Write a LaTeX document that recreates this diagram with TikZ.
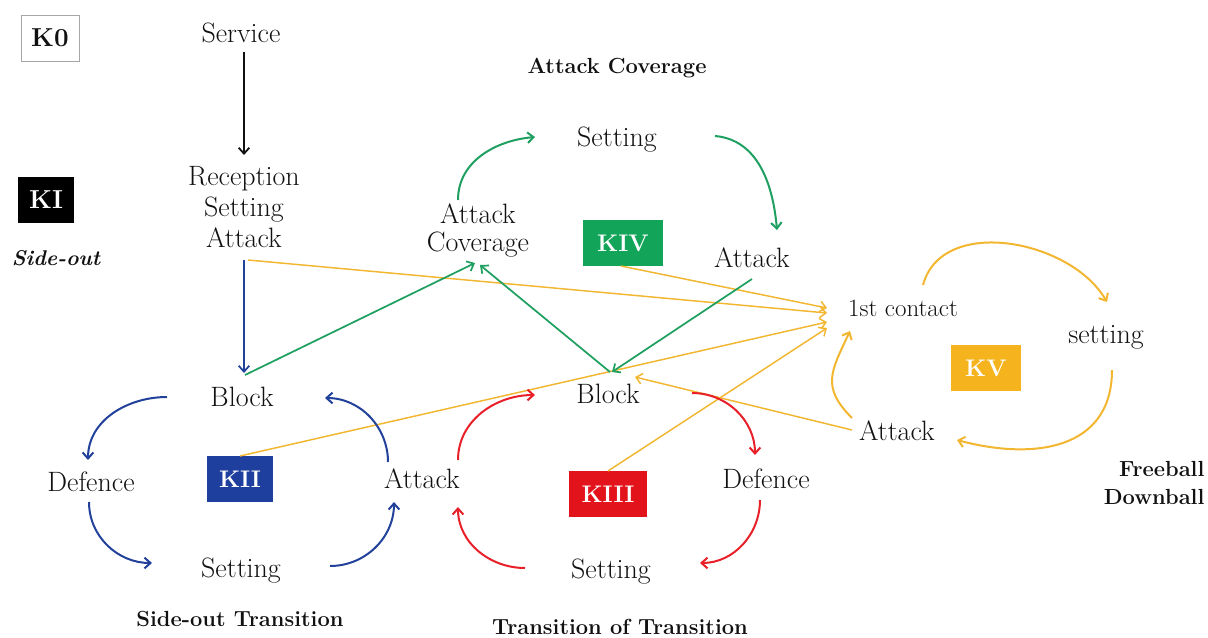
\documentclass[tikz,border=0pt]{standalone}
\usetikzlibrary{arrows.meta,calc}
\definecolor{kblue}{HTML}{1F3F9F}
\definecolor{lblue}{HTML}{22419A}
\definecolor{kred}{HTML}{E3131B}
\definecolor{lred}{HTML}{E8202A}
\definecolor{kgreen}{HTML}{12A55A}
\definecolor{lgreen}{HTML}{1FA060}
\definecolor{kgold}{HTML}{F5B41E}
\definecolor{lgold}{HTML}{F2B631}
\definecolor{ink}{HTML}{111111}
\begin{document}
\begin{tikzpicture}[x=0.75pt,y=-0.75pt,
  txt/.style={font=\fontsize{21}{23}\selectfont, text=ink, inner sep=1pt, align=center},
  ttl/.style={font=\fontsize{16.4}{21}\selectfont\bfseries, text=ink, inner sep=1pt},
  kbox/.style={font=\fontsize{18}{20}\selectfont\bfseries, text=white, inner sep=0pt},
  arr/.style={-{Straight Barb[length=4.5pt,width=8pt]}, line width=1.3pt},
  cur/.style={-{Straight Barb[length=4.5pt,width=8pt]}, line width=1.5pt}]
\path[use as bounding box] (0,0) rectangle (1208,637);

% boxes
\node[draw=gray!70, line width=0.6pt, font=\fontsize{19.5}{22}\selectfont\bfseries, text=ink, minimum width=43.5pt, minimum height=34.5pt, inner sep=0pt] (k0) at (50,38) {K0};
\node[kbox, fill=black, font=\fontsize{19.5}{22}\selectfont\bfseries, minimum width=42pt, minimum height=35pt] (ki) at (46,200) {KI};
\node[kbox, fill=kblue, minimum width=50pt, minimum height=35pt] (kii) at (240,479) {KII};
\node[kbox, fill=kred, minimum width=59pt, minimum height=34.5pt] (kiii) at (608,494) {KIII};
\node[kbox, fill=kgreen, minimum width=60pt, minimum height=34.5pt] (kiv) at (623,243) {KIV};
\node[kbox, fill=kgold, minimum width=52pt, minimum height=35pt] (kv) at (986,368) {KV};

% titles
\node[ttl, font=\fontsize{16}{21}\selectfont\bfseries\itshape] (sideout) at (56,258) {Side-out};
\node[ttl] (acovT) at (617,68) {Attack Coverage};
\node[ttl] (sot) at (240,619) {Side-out Transition};
\node[ttl] (tot) at (620,627) {Transition of Transition};
\node[ttl, align=right, anchor=east] (fd) at (1206,483) {Freeball\\Downball};

% text nodes
\node[txt] (service) at (241,33) {Service};
\node[txt] (rsa) at (244,207) {Reception\\Setting\\Attack};
\node[txt] (set4) at (617,140) {Setting};
\node[txt, font=\fontsize{21}{21}\selectfont] (acov) at (478,230) {Attack\\Coverage};
\node[txt] (att4) at (752,258) {Attack};
\node[txt, font=\fontsize{18.7}{21}\selectfont] (first) at (903,308) {1st contact};
\node[txt] (set5) at (1106,337) {setting};
\node[txt] (att5) at (897,431) {Attack};
\node[txt] (blk2) at (242,397) {Block};
\node[txt] (def2) at (91,482) {Defence};
\node[txt] (att2) at (422,479) {Attack};
\node[txt] (set2) at (241,571) {Setting};
\node[txt] (blk3) at (608,394) {Block};
\node[txt] (def3) at (766,479) {Defence};
\node[txt] (set3) at (611,572) {Setting};

% straight connectors
\draw[arr, ink] ($(service)+(3,19)$) -- ($(rsa)+(0,-52)$);
\draw[arr, lblue] ($(rsa)+(0,53)$) -- ($(blk2)+(2,-24)$);
\draw[arr, lgold, line width=1.1pt] ($(rsa)+(4,53)$) -- ($(first)+(-76,5)$);
\draw[arr, lgold, line width=1.1pt] ($(kiv)+(-2,23)$) -- ($(first)+(-76,0)$);
\draw[arr, lgold, line width=1.1pt] ($(kii)+(0,-23)$) -- ($(first)+(-76,14)$);
\draw[arr, lgold, line width=1.1pt] ($(kiii)+(0,-23)$) -- ($(first)+(-76,20)$);
\draw[arr, lgold, line width=1.1pt] ($(att5)+(-45,-1)$) -- ($(blk3)+(27,-17)$);
\draw[arr, lgreen] ($(blk2)+(3,-22)$) -- ($(acov)+(-3,33)$);
\draw[arr, lgreen] ($(blk3)+(2,-22)$) -- ($(acov)+(2,35)$);
\draw[arr, lgreen] ($(att4)+(0,21)$) -- ($(blk3)+(4,-22)$);

% green cycle
\draw[cur, lgreen] ($(acov)+(-20,-30)$) to[out=90, in=185] ($(set4)+(-82,-3)$);
\draw[cur, lgreen] ($(set4)+(98,-4)$) to[out=-5, in=95] ($(att4)+(25,-28)$);

% blue cycle
\draw[cur, lblue] ($(blk2)+(-75,0)$) to[out=180, in=90] ($(def2)+(-3,-22)$);
\draw[cur, lblue] ($(def2)+(-2,20)$) to[out=-90, in=180] ($(set2)+(-89,-8)$);
\draw[cur, lblue] ($(set2)+(89,-5)$) to[out=0, in=-90] ($(att2)+(-28,23)$);
\draw[cur, lblue] ($(att2)+(-34,-17)$) to[out=90, in=0] ($(blk2)+(83,1)$);

% red cycle
\draw[cur, lred] ($(att2)+(36,-19)$) to[out=90, in=180] ($(blk3)+(-73,1)$);
\draw[cur, lred] ($(blk3)+(84,-1)$) to[out=0, in=90] ($(def3)+(-11,-24)$);
\draw[cur, lred] ($(def3)+(-6,21)$) to[out=-90, in=0] ($(set3)+(89,-9)$);
\draw[cur, lred] ($(set3)+(-86,-4)$) to[out=180, in=-90] ($(att2)+(36,28)$);

% gold cycle
\draw[cur, lgold] ($(first)+(20,-23)$) to[out=75, in=120] ($(set5)+(1,-35)$);
\draw[cur, lgold] ($(set5)+(6,33)$) to[out=-90, in=-15, looseness=1.2] ($(att5)+(60,9)$);
\draw[cur, lgold] ($(att5)+(-45,-13)$) to[out=135, in=-115, looseness=1.3] ($(first)+(-53,23)$);
\end{tikzpicture}
\end{document}
